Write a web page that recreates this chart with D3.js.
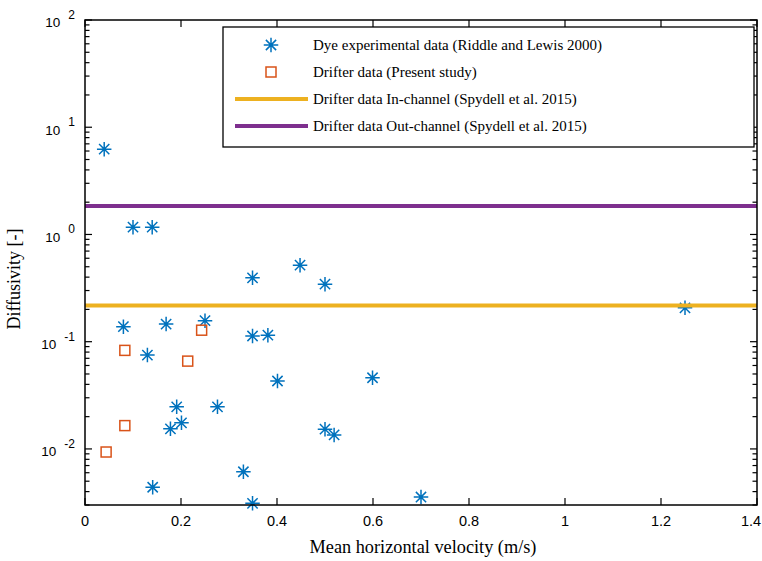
<!DOCTYPE html>
<html><head><meta charset="utf-8">
<script src="https://cdn.jsdelivr.net/npm/d3@7"></script>
<style>body{margin:0;background:#fff}svg{display:block}</style>
</head><body>
<svg id="c" width="762" height="561"></svg>
<script>
// ---- data ----
const dyeVel = [0.04,0.10,0.14,0.349,0.448,0.50,1.25,0.08,0.169,0.25,0.349,0.381,0.13,0.401,0.599,0.191,0.276,0.201,0.178,0.50,0.519,0.33,0.141,0.349,0.70];
const dyeDiff = [6.24,1.17,1.17,0.394,0.517,0.344,0.207,0.138,0.146,0.157,0.113,0.115,0.075,0.043,0.0461,0.0247,0.0247,0.0175,0.0154,0.0153,0.0135,0.00613,0.00439,0.00311,0.00356];
const drVel = [0.044,0.083,0.083,0.214,0.243];
const drDiff = [0.00936,0.0165,0.083,0.0659,0.128];
const inChannel = 0.218;
const outChannel = 1.84;
const xTicks = [0,0.2,0.4,0.6,0.8,1,1.2,1.4];
const yTickExp = [2,1,0,-1,-2];
const legendLabels = ["Dye experimental data (Riddle and Lewis 2000)","Drifter data (Present study)","Drifter data In-channel (Spydell et al. 2015)","Drifter data Out-channel (Spydell et al. 2015)"];

const L=85,R=757,T=20,B=505;
const svg=d3.select("#c");
const x=d3.scaleLinear().domain([0,1.4]).range([L,R]);
const y=d3.scaleLog().domain([0.003,100]).range([B,T]);
const blue="#0072BD",orange="#D95319",yellow="#EDB120",purple="#7E2F8E";

function star(g,cx,cy,s){
  const r=s/2, d=r*0.7071;
  g.append("path").attr("d",`M${cx-r},${cy}H${cx+r}M${cx},${cy-r}V${cy+r}M${cx-d},${cy-d}L${cx+d},${cy+d}M${cx-d},${cy+d}L${cx+d},${cy-d}`)
   .attr("stroke",blue).attr("stroke-width",1.5).attr("fill","none");
}
const gm=svg.append("g");
dyeVel.forEach((v,i)=>star(gm,x(v),y(dyeDiff[i]),14.5));
drVel.forEach((v,i)=>gm.append("rect").attr("x",x(v)-5).attr("y",y(drDiff[i])-5).attr("width",10).attr("height",10)
  .attr("fill","none").attr("stroke",orange).attr("stroke-width",1.5));
svg.append("line").attr("x1",L).attr("x2",R).attr("y1",y(inChannel)).attr("y2",y(inChannel)).attr("stroke",yellow).attr("stroke-width",4);
svg.append("line").attr("x1",L).attr("x2",R).attr("y1",y(outChannel)).attr("y2",y(outChannel)).attr("stroke",purple).attr("stroke-width",4);

// axes
const ax=svg.append("g").attr("stroke","#000").attr("stroke-width",1.2);
ax.append("rect").attr("x",L).attr("y",T).attr("width",R-L).attr("height",B-T).attr("fill","none").attr("stroke-width",1.5);
xTicks.forEach(t=>{
  ax.append("line").attr("x1",x(t)).attr("x2",x(t)).attr("y1",B).attr("y2",B-7);
  ax.append("line").attr("x1",x(t)).attr("x2",x(t)).attr("y1",T).attr("y2",T+7);
});
for(let e=-3;e<=1;e++){for(let m=1;m<=9;m++){const v=m*Math.pow(10,e); if(v<0.003||v>100)continue;
  const len=m===1?7:4.5;
  ax.append("line").attr("x1",L).attr("x2",L+len).attr("y1",y(v)).attr("y2",y(v));
  ax.append("line").attr("x1",R).attr("x2",R-len).attr("y1",y(v)).attr("y2",y(v));
}}
ax.append("line").attr("x1",L).attr("x2",L+7).attr("y1",y(100)).attr("y2",y(100));
ax.append("line").attr("x1",R).attr("x2",R-7).attr("y1",y(100)).attr("y2",y(100));

const sans="Arial, 'Liberation Sans', sans-serif", serif="'Times New Roman','Liberation Serif',serif";
svg.append("g").selectAll("text").data(xTicks).join("text")
  .attr("x",d=>Math.min(x(d),751)).attr("y",526).attr("text-anchor","middle").attr("font-family",sans).attr("font-size",14.5)
  .text(d=>d3.format("~g")(d));
yTickExp.forEach(e=>{
  const t=svg.append("text").attr("x",75).attr("y",y(Math.pow(10,e))+7.4).attr("text-anchor","end").attr("font-family",sans).attr("font-size",13.5);
  t.append("tspan").text("10");
  t.append("tspan").attr("dx",8).attr("dy",-8.4).attr("font-size",12).text(String(e));
});
svg.append("text").attr("x",423).attr("y",553).attr("text-anchor","middle").attr("font-family",serif).attr("font-size",18.3).text("Mean horizontal velocity (m/s)");
svg.append("text").attr("transform","translate(20,279) rotate(-90)").attr("text-anchor","middle").attr("font-family",serif).attr("font-size",18).text("Diffusivity [-]");

// legend
const lg=svg.append("g");
lg.append("rect").attr("x",223).attr("y",27).attr("width",531).attr("height",120).attr("fill","#fff").attr("stroke","#000").attr("stroke-width",1.3);
const rows=[45,72,99,126];
star(lg,271,rows[0],14.5);
lg.append("rect").attr("x",266).attr("y",rows[1]-5).attr("width",10).attr("height",10).attr("fill","none").attr("stroke",orange).attr("stroke-width",1.5);
lg.append("line").attr("x1",235).attr("x2",308).attr("y1",rows[2]).attr("y2",rows[2]).attr("stroke",yellow).attr("stroke-width",4);
lg.append("line").attr("x1",235).attr("x2",308).attr("y1",rows[3]).attr("y2",rows[3]).attr("stroke",purple).attr("stroke-width",4);
legendLabels.forEach((s,i)=>lg.append("text").attr("x",313).attr("y",rows[i]+5).attr("font-family",serif).attr("font-size",15).text(s));
</script>
</body></html>
